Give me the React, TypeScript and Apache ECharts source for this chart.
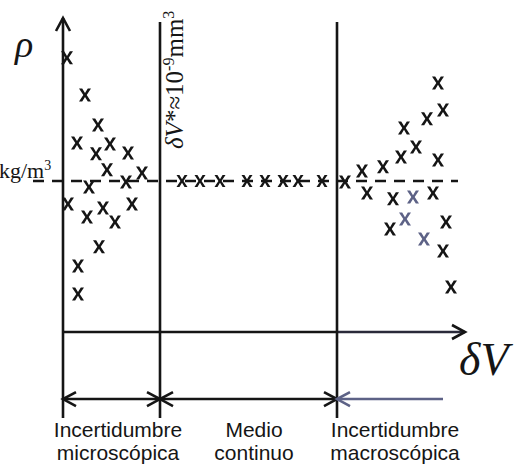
import React, { useEffect, useRef } from "react";
import * as echarts from "echarts";

// δV (relative units along the horizontal axis) and ρ (relative density units)
const LEFT_X = [1.0, 5.5, 8.75, 3.5, 8.25, 11.75, 16.25, 11.0, 15.75, 19.75, 6.5, 1.25, 6.0, 10.0, 13.0, 17.25, 9.0, 3.75, 3.75];
const LEFT_RHO = [9.08, 7.85, 6.86, 6.26, 5.9, 6.23, 5.93, 5.37, 4.97, 5.27, 4.8, 4.24, 3.81, 4.11, 3.64, 4.24, 2.82, 2.19, 1.26];

const MID_X = [29.75, 34.25, 39.25, 46.0, 50.5, 55.0, 58.75, 64.75];
const MID_RHO = [5.0, 5.0, 5.0, 5.0, 5.0, 5.0, 5.0, 5.0];

const RIGHT_X = [93.75, 95.0, 91.0, 85.25, 88.25, 84.5, 93.75, 80.0, 74.75, 70.5, 76.0, 82.5, 87.5, 92.5, 85.5, 81.75, 95.75, 90.25, 95.0, 97.0];
const RIGHT_RHO = [8.25, 7.35, 7.06, 6.76, 6.13, 5.8, 5.7, 5.47, 5.33, 4.97, 4.6, 4.41, 4.47, 4.6, 3.74, 3.41, 3.64, 3.08, 2.68, 1.49];
const RIGHT_FAINT = [false, false, false, false, false, false, false, false, false, false, false, false, true, false, true, false, false, true, false, false];

const RHO_MEAN = 5;
const DV_STAR = 24.25;
const DV_MACRO = 68.5;
const X_MAX = 100;
const RHO_MAX = 10.4;

const BOTTOM_LABELS = [
  ["Incertidumbre", "microscópica"],
  ["Medio", "continuo"],
  ["Incertidumbre", "macroscópica"],
];

const X_SYMBOL =
  "path://M0,0H3.2L6,4.6L8.8,0H12L7.7,6.5L12,13H8.8L6,8.4L3.2,13H0L4.3,6.5Z";

const INK = "#151515";
const FAINT = "#5d6286";

export default function App() {
  const ref = useRef<HTMLDivElement>(null);

  useEffect(() => {
    if (!ref.current) return;
    const chart = echarts.init(ref.current, null, { renderer: "svg" });

    const pts = (xs: number[], ys: number[]) => xs.map((x, i) => [x, ys[i]]);

    chart.setOption({
      animation: false,
      backgroundColor: "#ffffff",
      grid: { left: 63, top: 18, width: 400, height: 314 },
      xAxis: { type: "value", min: 0, max: X_MAX, show: false },
      yAxis: { type: "value", min: 0, max: RHO_MAX, show: false },
      series: [
        {
          type: "scatter",
          data: pts(LEFT_X, LEFT_RHO),
          symbol: X_SYMBOL,
          symbolSize: [12, 13],
          itemStyle: { color: INK, opacity: 1 },
          z: 5,
        },
        {
          type: "scatter",
          data: pts(MID_X, MID_RHO),
          symbol: X_SYMBOL,
          symbolSize: [11, 12],
          itemStyle: { color: INK, opacity: 1 },
          z: 5,
        },
        {
          type: "scatter",
          data: RIGHT_X.map((x, i) => ({
            value: [x, RIGHT_RHO[i]],
            itemStyle: { color: RIGHT_FAINT[i] ? FAINT : INK },
          })),
          symbol: X_SYMBOL,
          symbolSize: [12, 13],
          itemStyle: { color: INK, opacity: 1 },
          z: 5,
        },
      ],
    });

    const p = (x: number, y: number) =>
      chart.convertToPixel({ gridIndex: 0 }, [x, y]) as number[];

    const LW = 2.6;
    const line = (a: number[], b: number[], stroke = INK, dash?: number[]) => ({
      type: "line",
      shape: { x1: a[0], y1: a[1], x2: b[0], y2: b[1] },
      style: { stroke, lineWidth: LW, lineDash: dash, lineCap: "butt" },
      z: 1,
    });
    const chevron = (tip: number[], dir: string, stroke = INK) => {
      const L = 13;
      const H = 7;
      const [tx, ty] = tip;
      let pts: number[][] = [];
      if (dir === "up") pts = [[tx - H, ty + L], [tx, ty], [tx + H, ty + L]];
      if (dir === "right") pts = [[tx - L, ty - H], [tx, ty], [tx - L, ty + H]];
      if (dir === "left") pts = [[tx + L, ty - H], [tx, ty], [tx + L, ty + H]];
      return {
        type: "polyline",
        shape: { points: pts },
        style: { stroke, lineWidth: LW, fill: "none", lineJoin: "miter" },
        z: 1,
      };
    };

    const yTop = RHO_MAX;
    const yBelow = -2.85;
    const yBracket = -2.22;
    const divTop = 10.27;

    const g: any[] = [];
    // axes
    g.push(line(p(0, yTop), p(0, yBelow)));
    g.push(chevron(p(0, yTop), "up"));
    g.push(line(p(0, 0), p(DV_MACRO, 0)));
    g.push(line(p(DV_MACRO, 0), p(100.5, 0), "#2a2a3a"));
    g.push(chevron(p(100.5, 0), "right"));
    // dividers
    g.push(line(p(DV_STAR, divTop), p(DV_STAR, yBelow)));
    g.push(line(p(DV_MACRO, divTop), p(DV_MACRO, yBelow)));
    // mean density dashed line
    g.push(line(p(-7.5, RHO_MEAN), p(98.75, RHO_MEAN), INK, [11, 8]));
    // brackets
    g.push(line(p(0, yBracket), p(DV_STAR, yBracket)));
    g.push(chevron(p(0, yBracket), "left"));
    g.push(chevron(p(DV_STAR, yBracket), "right"));
    g.push(line(p(DV_STAR, yBracket), p(DV_MACRO, yBracket)));
    g.push(chevron(p(DV_STAR, yBracket), "left"));
    g.push(chevron(p(DV_MACRO, yBracket), "right"));
    g.push(line(p(DV_MACRO, yBracket), p(95, yBracket), FAINT));
    g.push(chevron(p(DV_MACRO, yBracket), "left", FAINT));

    // texts
    g.push({
      type: "text",
      x: 24,
      y: 44,
      style: {
        text: "ρ",
        font: "italic 38px 'Liberation Serif', serif",
        fill: INK,
        align: "center",
        verticalAlign: "middle",
      },
      z: 3,
    });
    g.push({
      type: "text",
      x: -1,
      y: 170,
      style: {
        text: "kg/m{s|3}",
        font: "22px 'Liberation Serif', serif",
        fill: INK,
        align: "left",
        verticalAlign: "middle",
        rich: {
          s: { fontSize: 14, fontFamily: "'Liberation Serif', serif", verticalAlign: "top", fill: INK, padding: [0, 0, 10, 0] },
        },
      },
      z: 3,
    });
    g.push({
      type: "text",
      x: 188,
      y: 149,
      rotation: Math.PI / 2,
      style: {
        text: "{i|δV}*≈10{s|-9}mm{s|3}",
        font: "25px 'Liberation Serif', serif",
        fill: INK,
        align: "left",
        verticalAlign: "bottom",
        rich: {
          i: { fontSize: 25, fontStyle: "italic", fontFamily: "'Liberation Serif', serif", fill: INK },
          s: { fontSize: 16, fontFamily: "'Liberation Serif', serif", verticalAlign: "top", fill: INK, padding: [0, 0, 12, 0] },
        },
      },
      z: 3,
    });
    g.push({
      type: "text",
      x: 459,
      y: 359,
      style: {
        text: "δV",
        font: "italic 46px 'Liberation Serif', serif",
        fill: INK,
        align: "left",
        verticalAlign: "middle",
      },
      z: 3,
    });
    const centers = [118, 254, 395];
    BOTTOM_LABELS.forEach((pair, i) => {
      pair.forEach((t, j) => {
        g.push({
          type: "text",
          x: centers[i],
          y: 429 + j * 23,
          style: {
            text: t,
            font: "21px 'Liberation Sans', Arial, sans-serif",
            fill: INK,
            align: "center",
            verticalAlign: "middle",
          },
          z: 3,
        });
      });
    });

    chart.setOption({ graphic: g });

    return () => chart.dispose();
  }, []);

  return (
    <div
      ref={ref}
      style={{ position: "fixed", left: 0, top: 0, width: 515, height: 465, background: "#fff" }}
    />
  );
}
